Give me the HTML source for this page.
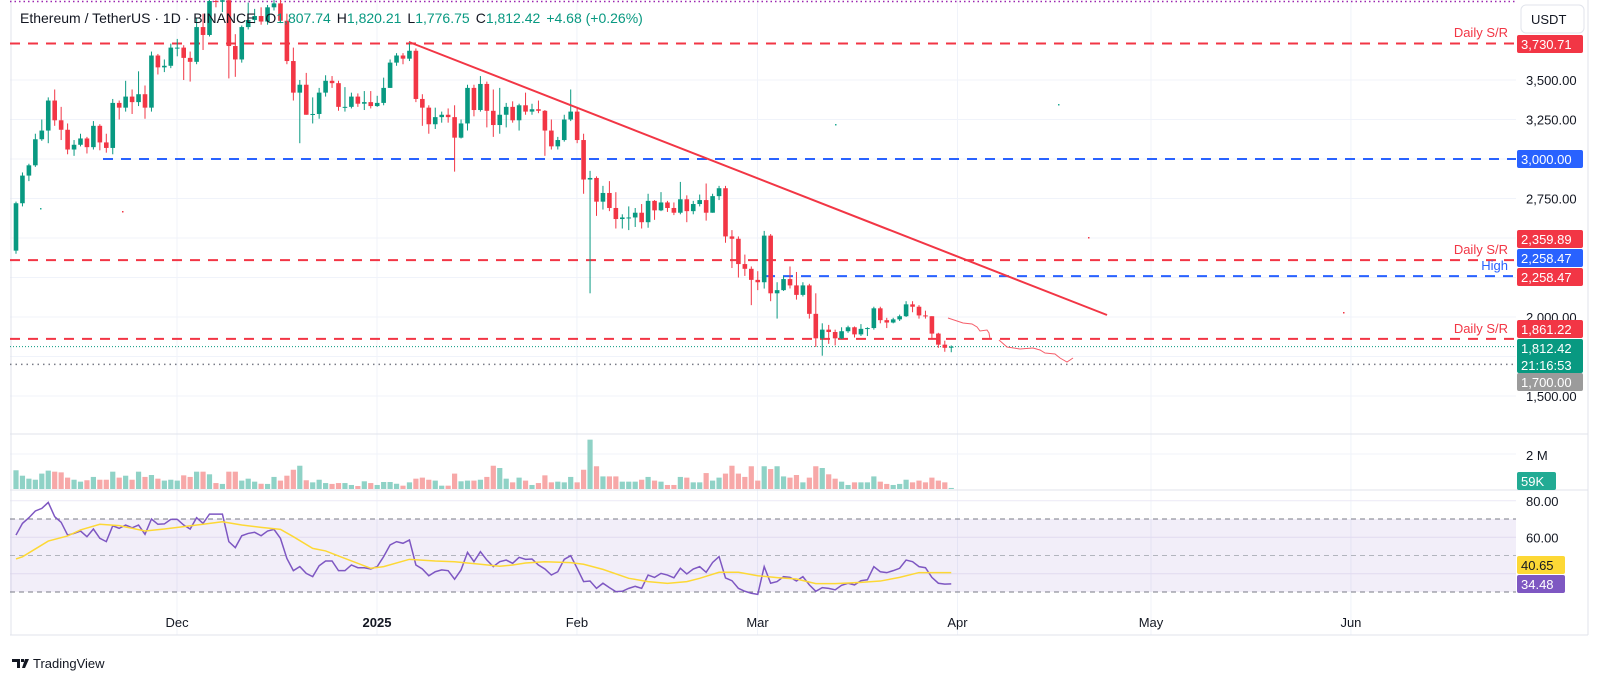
<!DOCTYPE html>
<html><head><meta charset="utf-8">
<style>
html,body{margin:0;padding:0;background:#fff;}
svg{display:block;font-family:"Liberation Sans",sans-serif;}
</style></head>
<body>
<svg id="chart" width="1600" height="675" viewBox="0 0 1600 675" xmlns="http://www.w3.org/2000/svg">
<g id="grid"></g>
<g id="levels"></g>
<g id="candles"></g>
<g id="volume"></g>
<g id="rsi"></g>
<g id="overlay"></g>
<g id="axes"></g>
</svg>
<script>
const opens=[2420,2720,2895,2960,3125,3180,3370,3245,3185,3060,3090,3130,3075,3210,3105,3070,3355,3325,3395,3360,3410,3325,3655,3580,3590,3705,3705,3640,3615,3835,3785,4000,3995,4005,3715,3630,3835,3880,3905,3870,3960,3985,3875,3620,3420,3470,3280,3285,3420,3495,3480,3330,3330,3395,3350,3360,3335,3355,3450,3610,3655,3635,3685,3380,3325,3220,3265,3280,3265,3135,3225,3450,3310,3475,3305,3215,3280,3330,3245,3340,3300,3315,3305,3180,3080,3120,3250,3300,3120,2870,2880,2730,2785,2690,2620,2630,2630,2660,2600,2735,2675,2725,2690,2660,2745,2670,2715,2740,2660,2765,2815,2510,2495,2335,2305,2235,2220,2515,2150,2170,2240,2200,2140,2200,2020,1865,1920,1905,1865,1910,1935,1890,1925,1930,2055,1980,1965,1985,2005,2080,2065,2010,2005,1895,1825,1807];
const highs=[2730,2915,2970,3160,3250,3390,3440,3330,3225,3120,3160,3140,3240,3220,3160,3380,3370,3495,3440,3555,3465,3680,3665,3630,3730,3760,3720,3680,3890,3920,4090,4020,4010,4010,3790,3845,3990,3950,3960,3975,4110,4050,3920,3705,3500,3545,3390,3450,3530,3525,3495,3455,3420,3415,3430,3430,3400,3515,3630,3670,3670,3745,3700,3410,3340,3325,3300,3320,3340,3250,3470,3470,3525,3490,3440,3450,3355,3365,3350,3420,3350,3370,3310,3250,3140,3280,3440,3330,3160,2925,2890,2830,2860,2790,2650,2700,2690,2715,2780,2740,2790,2735,2725,2855,2770,2735,2775,2845,2780,2830,2830,2550,2510,2395,2320,2290,2545,2525,2220,2260,2320,2285,2220,2210,2150,1960,1950,1920,1935,1945,1940,1955,1935,2065,2065,1995,1995,2015,2100,2100,2075,2040,2005,1900,1850,1820];
const lows=[2400,2700,2860,2950,3115,3100,3210,3120,3030,3020,3080,3035,3060,3055,3040,3030,3250,3300,3285,3335,3255,3300,3535,3550,3575,3650,3500,3490,3600,3690,3775,3960,3930,3510,3520,3610,3820,3860,3850,3850,3940,3860,3600,3370,3100,3280,3225,3255,3395,3450,3305,3300,3320,3330,3310,3320,3330,3340,3450,3590,3600,3620,3360,3210,3160,3190,3230,3230,2920,3130,3180,3270,3300,3200,3140,3160,3200,3230,3180,3280,3280,3290,3020,3060,3060,3110,3240,3100,2780,2150,2640,2680,2670,2560,2560,2550,2570,2560,2565,2615,2670,2665,2645,2650,2600,2650,2700,2610,2660,2740,2470,2310,2250,2260,2075,2170,2180,2100,1990,2165,2180,2110,2130,1990,1810,1755,1830,1820,1860,1900,1870,1880,1880,1920,1960,1930,1960,1975,2000,2030,1990,1990,1860,1805,1780,1777];
const closes=[2720,2895,2960,3125,3180,3370,3245,3185,3060,3090,3130,3075,3210,3105,3070,3355,3325,3395,3360,3410,3325,3655,3580,3590,3705,3705,3640,3615,3835,3785,4000,3995,4005,3715,3630,3835,3880,3905,3870,3960,3985,3875,3620,3420,3470,3280,3285,3420,3495,3480,3330,3330,3395,3350,3360,3335,3355,3450,3610,3655,3635,3685,3380,3325,3220,3265,3280,3265,3135,3225,3450,3310,3475,3305,3215,3280,3330,3245,3340,3300,3315,3305,3180,3080,3120,3250,3300,3120,2870,2880,2730,2785,2690,2620,2630,2630,2660,2600,2735,2675,2725,2690,2660,2745,2670,2715,2740,2660,2765,2815,2510,2495,2335,2305,2235,2220,2515,2150,2170,2240,2200,2140,2200,2020,1865,1920,1905,1865,1910,1935,1890,1925,1930,2055,1980,1965,1985,2005,2080,2065,2010,2005,1895,1825,1805,1812];
const volumes=[1.07,0.76,0.59,0.53,0.88,1.05,0.99,0.95,0.65,0.53,0.42,0.50,0.69,0.53,0.53,0.99,0.65,0.76,0.53,0.99,0.69,0.80,0.59,0.48,0.53,0.48,0.78,0.69,0.99,0.99,0.84,0.34,0.29,0.99,0.99,0.48,0.59,0.42,0.30,0.29,0.69,0.48,0.76,1.10,1.33,0.50,0.38,0.53,0.34,0.29,0.34,0.34,0.23,0.17,0.44,0.34,0.23,0.40,0.40,0.30,0.19,0.38,0.59,0.65,0.53,0.48,0.19,0.19,0.88,0.44,0.48,
0.48,0.53,0.69,1.33,1.20,0.59,0.38,0.65,0.48,0.23,0.34,0.78,0.38,0.42,0.38,0.69,0.38,1.10,2.82,1.30,0.72,0.72,0.72,0.42,0.42,0.42,0.53,0.69,0.48,0.42,0.23,0.23,0.69,0.65,0.38,0.38,0.91,0.48,0.65,0.88,1.33,0.88,0.69,1.30,0.48,1.30,1.14,1.30,0.72,0.65,0.80,0.38,0.65,1.30,1.20,0.84,0.59,0.42,0.23,0.38,0.38,0.38,0.72,0.42,0.29,0.23,0.29,0.53,0.38,0.48,0.38,0.65,0.48,0.38,0.06];
const rsiValues=[61.2,67.6,70.7,74.4,75.8,79.1,71.3,68.2,61.2,62.1,63.4,60.3,64.5,59.4,57.6,66.3,64.9,66.7,65.2,66.7,61.6,70,67.1,67.3,69.8,69.8,66.7,64.5,70.7,67.6,72.7,72.7,72.7,57.6,54.3,60.8,62.1,62.7,60.8,63.4,64.3,59.4,48.4,41.7,43.9,40.2,38.4,44.4,47,47,41.7,41.7,44.8,43.3,43.3,42.6,43.9,49.4,55.8,57.6,56.7,58.5,44.8,42.6,38.9,41.1,42.1,41.7,37,42.1,51.7,
46.6,52.1,47.5,43.9,46.6,47.5,45.7,49,47.9,48.1,44.8,42.6,39.3,41.1,47.9,49.9,43,35.7,36,32,34.8,32.4,30.2,30.4,32,33.1,32,39.3,38,40.2,39.3,37.8,43,39.9,42.6,43.9,40.8,46.2,49.4,37.7,36.2,32,30.4,29.3,28.7,43.9,34.8,35.7,38.4,38,36,38.4,33.9,30.4,32.4,32,31.2,33.7,34.8,33.9,36.2,36.7,43.9,41.1,40.6,41.7,43,47.5,46.6,43.9,43.3,38,34.8,34.3,34.48];
const rsiMaIndex=[0,1,3,5,8,10,13,16,18,20,23,26,29,32,35,38,41,43,46,48,51,55,57,61,65,68,72,75,77,79,82,86,88,91,95,98,101,104,106,109,112,115,118,121,124,127,131,134,137,140,145];
const rsiMaValues=[48.1,49.3,53.6,57.9,60.7,64,67.1,66.4,64.9,63.4,64.5,65.8,67.1,68.5,66.7,65.4,64.3,60.3,53.9,52.5,48.4,43,43.9,47.9,47,46.6,45.2,44.1,44.8,45.9,46.6,46.1,45.2,42.4,37.5,35.7,34.7,35.7,37.5,40.8,40.8,38.9,37.9,37.1,34.6,34.6,35.3,36,38,40.65,40.65];
const monthLabels=["Dec","2025","Feb","Mar","Apr","May","Jun"];
const monthDayIndex=[25,56,87,115,146,176,207];
const priceTicks=[3500,3250,3000,2750,2500,2250,2000,1750,1500];
const priceTickLabels=["3,500.00","3,250.00","","2,750.00","","","2,000.00","","1,500.00"];
const rsiTicks=[80,60];

(function(){
const NS="http://www.w3.org/2000/svg";
function mk(tag,attrs,parent,text){const e=document.createElementNS(NS,tag);for(const k in attrs)e.setAttribute(k,attrs[k]);if(text!==undefined)e.textContent=text;parent.appendChild(e);return e;}
const X0=16,STEP=6.45,LEFT=10,RIGHT=1516;
function xOf(i){return X0+i*STEP;}
function yP(p){return 80+(3500-p)*0.158;}
function yV(v){return 489-v/2*35;}
function yR(v){return 592-(v-30)*1.825;}
const G=document.getElementById('grid'),L=document.getElementById('levels'),C=document.getElementById('candles'),V=document.getElementById('volume'),R=document.getElementById('rsi'),O=document.getElementById('overlay'),A=document.getElementById('axes');
const GREEN="#089981",RED="#f23645";

const defs=mk('defs',{},document.getElementById('chart'));
const cp=mk('clipPath',{id:'pclip'},defs);mk('rect',{x:LEFT,y:0,width:RIGHT-LEFT,height:433},cp);
C.setAttribute('clip-path','url(#pclip)');

priceTicks.forEach(p=>{const l=mk('line',{x1:LEFT,x2:RIGHT,y1:yP(p),y2:yP(p),stroke:'#f0f3fa','stroke-width':1},G);

});
monthDayIndex.forEach(i=>{const l=mk('line',{x1:xOf(i)-STEP/2+3,x2:xOf(i)-STEP/2+3,y1:0,y2:635,stroke:'#f0f3fa','stroke-width':1},G);

});
mk('line',{x1:LEFT,x2:RIGHT,y1:454,y2:454,stroke:'#f0f3fa'},G);
[80,60,40].forEach(v=>mk('line',{x1:LEFT,x2:RIGHT,y1:yR(v),y2:yR(v),stroke:'#ece9f5'},G));
mk('line',{x1:LEFT,x2:1588,y1:434,y2:434,stroke:'#e0e3eb'},G);
mk('line',{x1:LEFT,x2:1588,y1:490,y2:490,stroke:'#e0e3eb'},G);
mk('line',{x1:LEFT,x2:1588,y1:635,y2:635,stroke:'#e0e3eb'},G);
mk('line',{x1:LEFT+1,x2:LEFT+1,y1:0,y2:635,stroke:'#e0e3eb'},G);
mk('line',{x1:1588,x2:1588,y1:0,y2:635,stroke:'#e0e3eb'},G);

function hline(y,x1,color,dash,name){const l=mk('line',{x1:x1,x2:RIGHT,y1:y,y2:y,stroke:color,'stroke-width':2,'stroke-dasharray':dash},L);

}
hline(yP(3730.71),LEFT,RED,'10 8','daily-sr-3730');
hline(yP(3000),103,'#2962ff','10 8','level-3000');
hline(yP(2359.89),LEFT,RED,'10 8','daily-sr-2360');
hline(yP(2258.47),765,'#2962ff','10 8','high-2258');
hline(yP(1861.22),LEFT,RED,'10 8','daily-sr-1861');
const gl=mk('line',{x1:LEFT,x2:RIGHT,y1:yP(1812.42),y2:yP(1812.42),stroke:GREEN,'stroke-width':1,'stroke-dasharray':'1 2'},L);


const gy=mk('line',{x1:LEFT,x2:RIGHT,y1:yP(1700),y2:yP(1700),stroke:'#787b86','stroke-width':1.5,'stroke-dasharray':'1.5 4'},L);


const topLine=mk('line',{x1:LEFT,x2:RIGHT,y1:1.5,y2:1.5,stroke:'#9c27b0','stroke-width':1.5,'stroke-dasharray':'1.5 3'},L);



closes.forEach((c,i)=>{const o=opens[i],h=highs[i],lo=lows[i];const col=c>=o?GREEN:RED;const x=xOf(i);
const w=mk('line',{x1:x,x2:x,y1:yP(h),y2:yP(lo),stroke:col,'stroke-width':1},C);


const yt=yP(Math.max(o,c)),yb=yP(Math.min(o,c));
const b=mk('rect',{x:x-2.3,y:yt,width:4.6,height:Math.max(1,yb-yt),fill:col},C);


const vy=yV(volumes[i]);
const vb=mk('rect',{x:x-2.6,y:vy,width:5.2,height:489-vy,fill:c>=o?'#8fd2c6':'#f7a8a8'},V);

});

const tl=mk('line',{x1:409,y1:42,x2:1107,y2:315,stroke:RED,'stroke-width':2},O);


const f1=mk('polyline',{points:'948,318 963,323 972,324 977,327 980,331 987,330 989,333 990,339',fill:'none',stroke:RED,'stroke-width':1,opacity:0.8},O);


const f2=mk('polyline',{points:'999,340 1007,347 1020,349 1033,348 1040,350 1045,353 1055,354 1060,358 1067,362 1073,358',fill:'none',stroke:RED,'stroke-width':1,opacity:0.8},O);


[[40,208,'#22ab94'],[122,211,RED],[835,124,'#22ab94'],[1058,104,'#22ab94'],[1088,237,RED],[1343,312,RED]].forEach(d=>mk('rect',{x:d[0],y:d[1],width:1.5,height:1.5,fill:d[2]},O));

function lbl(x,y,t,col,name){const e=mk('text',{x:x,y:y,'text-anchor':'end','font-size':13,fill:col},O,t);

}
lbl(1508,37,'Daily S/R',RED,'daily-sr-label-top');
lbl(1508,254,'Daily S/R',RED,'daily-sr-label-mid');
lbl(1508,270,'High','#2962ff','high-label');
lbl(1508,333,'Daily S/R',RED,'daily-sr-label-low');

const band=mk('rect',{x:LEFT,y:yR(70),width:RIGHT-LEFT,height:yR(30)-yR(70),fill:'#7e57c2','fill-opacity':0.1},R);


[70,50,30].forEach(v=>mk('line',{x1:LEFT,x2:RIGHT,y1:yR(v),y2:yR(v),stroke:v==50?'#b2b5be':'#787b86','stroke-dasharray':'5 4'},R));
const rp=mk('polyline',{points:rsiValues.map((v,i)=>xOf(i)+','+yR(v)).join(' '),fill:'none',stroke:'#7e57c2','stroke-width':1.5},R);


const mp=mk('polyline',{points:rsiMaValues.map((v,k)=>xOf(rsiMaIndex[k])+','+yR(v)).join(' '),fill:'none',stroke:'#fdd835','stroke-width':1.5},R);



const hd=mk('text',{x:20,y:23,'font-size':14,fill:'#131722'},A);


const parts=[['Ethereum / TetherUS · 1D · BINANCE ','#131722',0],['O','#131722',6],['1,807.74',GREEN,0],['H','#131722',6],['1,820.21',GREEN,0],['L','#131722',6],['1,776.75',GREEN,0],['C','#131722',6],['1,812.42',GREEN,0],['+4.68 (+0.26%)',GREEN,6]];
parts.forEach(p=>mk('tspan',{fill:p[1],dx:p[2]},hd,p[0]));

priceTicks.forEach((p,k)=>{if(!priceTickLabels[k])return;const t=mk('text',{x:1526,y:yP(p)+5,'font-size':13,fill:'#131722'},A,priceTickLabels[k]);

});
function box(y1,h,bg,txt,name,fg,w){const g=mk('g',{},A);


mk('rect',{x:1517,y:y1,width:w||66,height:h,rx:2,fill:bg},g);
txt.forEach((s,k)=>mk('text',{x:1521,y:y1+14+k*17,'font-size':13,fill:fg||'#fff'},g,s));}
const ub=mk('rect',{x:1521,y:5,width:63,height:28,rx:5,fill:'#fff',stroke:'#e0e3eb'},A);


mk('text',{x:1531,y:24,'font-size':13,fill:'#131722'},A,'USDT');
box(35,18,RED,['3,730.71'],'label-3730');
box(150,18,'#2962ff',['3,000.00'],'label-3000');
box(230,18,RED,['2,359.89'],'label-2360');
box(249,18,'#2962ff',['2,258.47'],'label-high-2258');
box(268,18,RED,['2,258.47'],'label-2258');
box(320,18,RED,['1,861.22'],'label-1861');
box(339,34,GREEN,['1,812.42','21:16:53'],'label-last-price');
box(373,18,'#9b9b9b',['1,700.00'],'label-1700');
mk('text',{x:1526,y:460,'font-size':13,fill:'#131722'},A,'2 M');
box(472,18,'#22ab94',['59K'],'label-volume',undefined,39);
rsiTicks.forEach(v=>{const t=mk('text',{x:1526,y:yR(v)+5,'font-size':13,fill:'#131722'},A,v.toFixed(2));

});
box(556,18,'#fdd835',['40.65'],'label-rsi-ma','#131722',48);
box(575,18,'#7e57c2',['34.48'],'label-rsi',undefined,48);

monthLabels.forEach((m,k)=>{const t=mk('text',{x:xOf(monthDayIndex[k])-STEP/2+3,y:627,'font-size':13,'text-anchor':'middle',fill:'#131722','font-weight':m==='2025'?'bold':'normal'},A,m);

});

const lg=mk('g',{},A);


mk('path',{d:'M12 659h8v9h-3v-6h-5z M21 659h3v3h-3z M25 659h4l-4 9h-3z',fill:'#131722'},lg);
mk('text',{x:33,y:668,'font-size':13,fill:'#131722'},lg,'TradingView');
})();
</script>
</body></html>
